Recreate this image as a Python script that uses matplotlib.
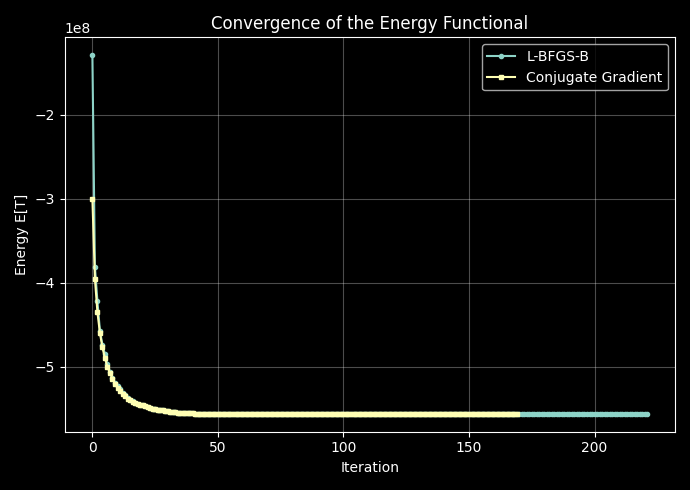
import numpy as np
import matplotlib
matplotlib.use("Agg")
import matplotlib.pyplot as plt

plt.style.use("dark_background")

# energy values in units of 1e8
lbfgs_head = [-1.29, -3.81, -4.22, -4.57, -4.74, -4.85, -4.97, -5.06, -5.13, -5.19,
              -5.23, -5.27, -5.31, -5.34, -5.37, -5.39, -5.41, -5.43, -5.44, -5.45,
              -5.46, -5.47, -5.48, -5.49, -5.50, -5.505, -5.51, -5.515, -5.52, -5.525,
              -5.53, -5.535, -5.54, -5.543, -5.546, -5.548, -5.55, -5.552, -5.554, -5.555,
              -5.556, -5.557, -5.558, -5.559, -5.56]
lbfgs_plateau = -5.56
lbfgs_len = 222

cg_head = [-3.00, -3.95, -4.35, -4.60, -4.77, -4.90, -5.00, -5.08, -5.14, -5.20,
           -5.25, -5.29, -5.32, -5.35, -5.38, -5.40, -5.42, -5.43, -5.44, -5.45,
           -5.46, -5.47, -5.48, -5.49, -5.50, -5.505, -5.51, -5.515, -5.52, -5.525,
           -5.53, -5.535, -5.54, -5.543, -5.546, -5.548, -5.55, -5.552, -5.554, -5.555,
           -5.556, -5.557, -5.558, -5.559, -5.56]
cg_plateau = -5.56
cg_len = 170

lbfgs = np.array(lbfgs_head + [lbfgs_plateau] * (lbfgs_len - len(lbfgs_head))) * 1e8
cg = np.array(cg_head + [cg_plateau] * (cg_len - len(cg_head))) * 1e8

fig, ax = plt.subplots(figsize=(6.9, 4.9), dpi=100)
ax.plot(np.arange(len(lbfgs)), lbfgs, marker="o", markersize=3, color="#8dd3c7", label="L-BFGS-B")
ax.plot(np.arange(len(cg)), cg, marker="s", markersize=3, color="#ffffb3", label="Conjugate Gradient")
ax.set_xlabel("Iteration")
ax.set_ylabel("Energy E[T]")
ax.set_title("Convergence of the Energy Functional")
ax.grid(alpha=0.3)
ax.legend()
plt.tight_layout()
fig.savefig("out.png")
